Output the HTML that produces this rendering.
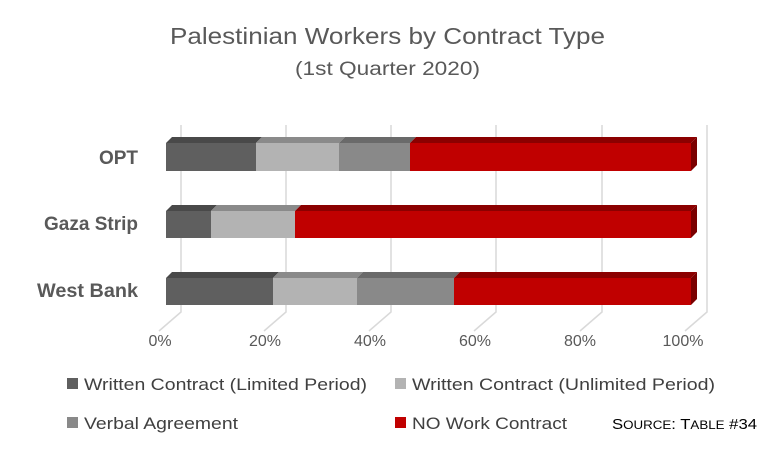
<!DOCTYPE html>
<html><head><meta charset="utf-8"><style>
body{margin:0;background:#fff;}
svg{display:block;font-family:"Liberation Sans",sans-serif;}
</style></head><body>
<svg width="774" height="452" viewBox="0 0 774 452">
<rect width="774" height="452" fill="#fff"/>
<text x="170" y="44" font-size="23" fill="#595959" textLength="435" lengthAdjust="spacingAndGlyphs">Palestinian Workers by Contract Type</text>
<text x="295" y="75" font-size="19" fill="#595959" textLength="185" lengthAdjust="spacingAndGlyphs">(1st Quarter 2020)</text>
<g stroke="#d9d9d9" stroke-width="1.5" fill="none">
<path d="M181 125V312L159 331"/><path d="M286 125V312L264 331"/><path d="M391 125V312L369 331"/>
<path d="M496 125V312L474 331"/><path d="M602 125V312L580 331"/><path d="M707 125V312L685 331"/>
</g>
<g id="bars">
<polygon points="166,143 172,137 262,137 256,143" fill="#494949"/>
<polygon points="256,143 262,137 345,137 339,143" fill="#8a8a8a"/>
<polygon points="339,143 345,137 416,137 410,143" fill="#6a6a6a"/>
<polygon points="410,143 416,137 697,137 691,143" fill="#8b0000"/>
<polygon points="691,143 697,137 697,165 691,171" fill="#7a0000"/>
<rect x="166" y="143" width="90" height="28" fill="#5f5f5f"/>
<rect x="256" y="143" width="83" height="28" fill="#b3b3b3"/>
<rect x="339" y="143" width="71" height="28" fill="#898989"/>
<rect x="410" y="143" width="281" height="28" fill="#c00000"/>
<polygon points="166,211 172,205 217,205 211,211" fill="#494949"/>
<polygon points="211,211 217,205 301,205 295,211" fill="#8a8a8a"/>
<polygon points="295,211 301,205 697,205 691,211" fill="#8b0000"/>
<polygon points="691,211 697,205 697,232 691,238" fill="#7a0000"/>
<rect x="166" y="211" width="45" height="27" fill="#5f5f5f"/>
<rect x="211" y="211" width="84" height="27" fill="#b3b3b3"/>
<rect x="295" y="211" width="396" height="27" fill="#c00000"/>
<polygon points="166,278 172,272 279,272 273,278" fill="#494949"/>
<polygon points="273,278 279,272 363,272 357,278" fill="#8a8a8a"/>
<polygon points="357,278 363,272 460,272 454,278" fill="#6a6a6a"/>
<polygon points="454,278 460,272 697,272 691,278" fill="#8b0000"/>
<polygon points="691,278 697,272 697,299 691,305" fill="#7a0000"/>
<rect x="166" y="278" width="107" height="27" fill="#5f5f5f"/>
<rect x="273" y="278" width="84" height="27" fill="#b3b3b3"/>
<rect x="357" y="278" width="97" height="27" fill="#898989"/>
<rect x="454" y="278" width="237" height="27" fill="#c00000"/>
</g>
<g font-size="19" font-weight="bold" fill="#595959">
<text x="138" y="164" text-anchor="end">OPT</text>
<text x="44" y="230" textLength="94" lengthAdjust="spacingAndGlyphs">Gaza Strip</text>
<text x="37" y="297" textLength="101" lengthAdjust="spacingAndGlyphs">West Bank</text>
</g>
<g font-size="16" fill="#595959" text-anchor="middle">
<text x="160" y="346">0%</text><text x="265" y="346">20%</text><text x="370" y="346">40%</text>
<text x="475" y="346">60%</text><text x="580" y="346">80%</text><text x="683" y="346">100%</text>
</g>
<g font-size="17" fill="#404040">
<rect x="67" y="378" width="11" height="11" fill="#5f5f5f"/><text x="84" y="390" textLength="283" lengthAdjust="spacingAndGlyphs">Written Contract (Limited Period)</text>
<rect x="395" y="378" width="11" height="11" fill="#b3b3b3"/><text x="412" y="390" textLength="303" lengthAdjust="spacingAndGlyphs">Written Contract (Unlimited Period)</text>
<rect x="67" y="417" width="11" height="11" fill="#898989"/><text x="84" y="429" textLength="154" lengthAdjust="spacingAndGlyphs">Verbal Agreement</text>
<rect x="395" y="417" width="11" height="11" fill="#c00000"/><text x="412" y="429" textLength="155" lengthAdjust="spacingAndGlyphs">NO Work Contract</text>
</g>
<text x="612" y="429" font-size="15" fill="#000" textLength="145" lengthAdjust="spacingAndGlyphs">S<tspan font-size="12">OURCE</tspan>: T<tspan font-size="12">ABLE</tspan> #34</text>
</svg>
</body></html>
